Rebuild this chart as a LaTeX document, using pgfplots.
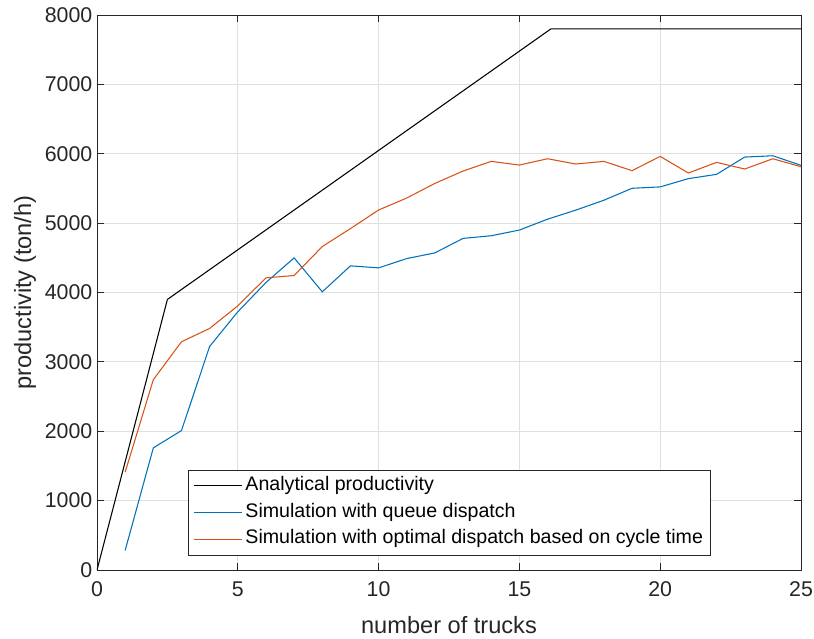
\documentclass[border=0pt]{standalone}
\usepackage{pgfplots}
\pgfplotsset{compat=1.18}
\usepackage{fontspec}
\setmainfont{Liberation Sans}
\definecolor{mblue}{rgb}{0,0.447,0.741}
\definecolor{morange}{rgb}{0.85,0.325,0.098}
\definecolor{axgray}{rgb}{0.15,0.15,0.15}
\begin{document}
\begin{tikzpicture}
\path[use as bounding box] (-72.75pt,-51.75pt) rectangle (537.75pt,427.5pt);
\begin{axis}[
  at={(0,0)}, anchor=south west,
  scale only axis,
  width=528pt, height=416.25pt,
  xmin=0, xmax=25, ymin=0, ymax=8000,
  xtick={0,5,...,25}, ytick={0,1000,...,8000},
  scaled y ticks=false,
  /pgf/number format/1000 sep={},
  /pgf/number format/assume math mode=true,
  tick align=inside, tick pos=both,
  major tick length=5pt,
  every tick/.style={axgray, line width=0.6pt},
  axis line style={axgray, line width=0.6pt},
  grid=major,
  major grid style={black!12, line width=0.6pt},
  ticklabel style={font=\fontsize{16}{19}\selectfont, text=axgray},
  xticklabel style={yshift=-5pt},
  label style={font=\fontsize{17.7}{21}\selectfont, text=axgray},
  xlabel={number of trucks},
  ylabel={productivity (ton/h)},
  xlabel style={at={(axis description cs:0.5,-0.0991)}, anchor=center},
  ylabel style={at={(axis description cs:-0.1023,0.5)}, anchor=center},
  legend style={at={(0.1293,0.0258)}, anchor=south west, draw=axgray, line width=0.6pt,
    font=\fontsize{14.7}{17}\selectfont, text=black,
    inner xsep=3.75pt, inner ysep=3pt, row sep=2pt, column sep=0.75pt,
    nodes={inner sep=1.5pt, text height=11pt, text depth=4pt}},
  legend cell align=left,
  legend image code/.code={\draw[#1] (0pt,0pt) -- (36pt,0pt);},
]
\addplot[black, line width=0.8pt] coordinates {(0,0) (2.5,3900) (16.12,7800) (25,7800)};
\addlegendentry{Analytical productivity}
\addplot[color=mblue, line width=0.8pt] coordinates {
(1,283) (2,1760) (3,2010) (4,3223) (5,3722) (6,4144) (7,4499) (8,4010) (9,4384) (10,4355)
(11,4489) (12,4571) (13,4780) (14,4818) (15,4900) (16,5057) (17,5187) (18,5330) (19,5502)
(20,5522) (21,5641) (22,5703) (23,5952) (24,5971) (25,5833)};
\addlegendentry{Simulation with queue dispatch}
\addplot[color=morange, line width=0.8pt] coordinates {
(1,1410) (2,2743) (3,3290) (4,3482) (5,3808) (6,4211) (7,4245) (8,4662) (9,4921) (10,5189)
(11,5362) (12,5573) (13,5751) (14,5890) (15,5837) (16,5928) (17,5852) (18,5890) (19,5756)
(20,5962) (21,5722) (22,5876) (23,5780) (24,5928) (25,5813)};
\addlegendentry{Simulation with optimal dispatch based on cycle time}
\end{axis}
\end{tikzpicture}
\end{document}
